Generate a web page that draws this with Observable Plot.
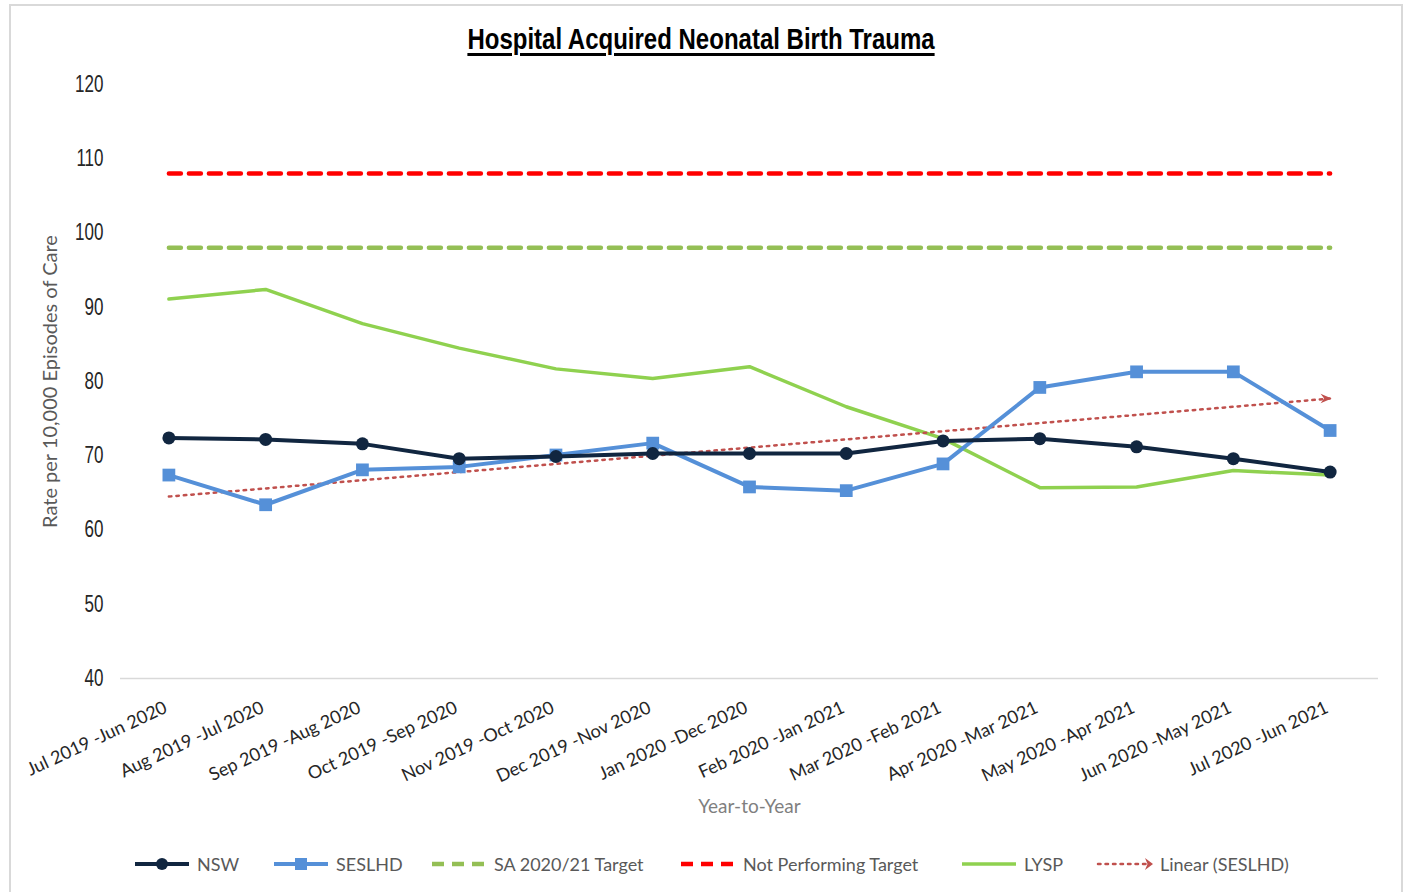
<!DOCTYPE html>
<html><head><meta charset="utf-8">
<script src="https://cdn.jsdelivr.net/npm/d3@7"></script>
<script src="https://cdn.jsdelivr.net/npm/@observablehq/plot@0.6"></script>
<style>
body{margin:0;background:#fff;width:1408px;height:892px;overflow:hidden;position:relative;font-family:Lato,"Open Sans",sans-serif;}
#frame{position:absolute;left:9px;top:4px;width:1394px;height:920px;border:2px solid #d9d9d9;box-sizing:border-box;}
#title{position:absolute;top:22px;left:0;width:1402px;text-align:center;}
#title span{display:inline-block;font-family:"Liberation Sans",Arial,sans-serif;font-weight:bold;font-size:30px;text-decoration:underline;text-underline-offset:4px;color:#000;transform:scaleX(0.8);transform-origin:center;}
#chart{position:absolute;left:0;top:70px;}
.leg{position:absolute;top:852px;height:24px;display:flex;align-items:center;font-size:18px;color:#595959;white-space:nowrap;}
.leg svg{margin-right:6px;}
</style></head>
<body>
<div id="frame"></div>
<div id="title"><span>Hospital Acquired Neonatal Birth Trauma</span></div>
<div id="chart"></div>
<div id="legend"></div>
<script>
const categories = [
  "Jul 2019 -Jun 2020","Aug 2019 -Jul 2020","Sep 2019 -Aug 2020","Oct 2019 -Sep 2020",
  "Nov 2019 -Oct 2020","Dec 2019 -Nov 2020","Jan 2020 -Dec 2020","Feb 2020 -Jan 2021",
  "Mar 2020 -Feb 2021","Apr 2020 -Mar 2021","May 2020 -Apr 2021","Jun 2020 -May 2021",
  "Jul 2020 -Jun 2021"
];
const nsw    = [72.4, 72.2, 71.6, 69.6, 69.9, 70.3, 70.3, 70.3, 72.0, 72.3, 71.2, 69.6, 67.8];
const seslhd = [67.4, 63.4, 68.1, 68.5, 70.1, 71.7, 65.8, 65.3, 68.9, 79.2, 81.3, 81.3, 73.4];
const lysp   = [91.1, 92.4, 87.8, 84.5, 81.7, 80.4, 82.0, 76.6, 72.3, 65.7, 65.8, 68.0, 67.4];
const saTarget = 98;
const notPerformingTarget = 108;
const trendStartEnd = [64.5, 77.7];   // Linear (SESLHD)
const yTicks = [40, 50, 60, 70, 80, 90, 100, 110, 120];
const seriesNames = ["NSW","SESLHD","SA 2020/21 Target","Not Performing Target","LYSP","Linear (SESLHD)"];
const colors = {nsw:"#112640", ses:"#5590d8", sa:"#94bf55", np:"#ff0000", lysp:"#8fd14f", trend:"#c0504d"};

const rows = categories.map((c, i) => ({cat: c, nsw: nsw[i], ses: seslhd[i], lysp: lysp[i], sa: saTarget, np: notPerformingTarget}));
const trendRows = [
  {cat: categories[0], v: trendStartEnd[0]},
  {cat: categories[categories.length - 1], v: trendStartEnd[1]}
];
const arrowSym = {draw(ctx, size){ const s = Math.sqrt(size) / 1.6;
  ctx.moveTo(s, 0); ctx.lineTo(-s, -s * 0.85); ctx.lineTo(-s * 0.35, 0); ctx.lineTo(-s, s * 0.85); ctx.closePath(); }};

const chart = Plot.plot({
  width: 1408, height: 770,
  marginLeft: 120, marginRight: 30, marginTop: 14, marginBottom: 162,
  x: {type: "point", domain: categories, padding: 0.5, round: false},
  y: {domain: [40, 120]},
  style: {background: "transparent", overflow: "visible"},
  marks: [
    Plot.ruleY([40], {stroke: "#d9d9d9", strokeWidth: 1.5}),
    Plot.axisY({ticks: yTicks, tickSize: 0, tickPadding: 17, label: null, fontSize: 23, fontFamily: "'Liberation Sans',Arial,sans-serif", fill: "#262626"}),
    Plot.axisX({tickSize: 0, tickRotate: -25, tickPadding: 28, dx: -3, label: null, fontSize: 18, fontFamily: "Lato,'Open Sans',sans-serif", fill: "#262626"}),
    Plot.text(["Rate per 10,000 Episodes of Care"], {frameAnchor: "left", textAnchor: "middle", rotate: -90, dx: -70, fontSize: 20, fill: "#595959", fontFamily: "Lato,'Open Sans',sans-serif"}),
    Plot.text(["Year-to-Year"], {frameAnchor: "bottom", dy: 134, fontSize: 19, fill: "#7f7f7f", fontFamily: "Lato,'Open Sans',sans-serif"}),
    Plot.lineY(rows, {x: "cat", y: "np", stroke: colors.np, strokeWidth: 4.5, strokeDasharray: "12,8"}),
    Plot.lineY(rows, {x: "cat", y: "sa", stroke: colors.sa, strokeWidth: 4.5, strokeDasharray: "12,8"}),
    Plot.lineY(rows, {x: "cat", y: "lysp", stroke: colors.lysp, strokeWidth: 3.5}),
    Plot.lineY(trendRows, {x: "cat", y: "v", stroke: colors.trend, strokeWidth: 2.5, strokeDasharray: "2.5,5", strokeLinecap: "round"}),
    Plot.dot([trendRows[1]], {x: "cat", y: "v", symbol: arrowSym, r: 5, fill: colors.trend, stroke: "none", dx: -4}),
    Plot.lineY(rows, {x: "cat", y: "ses", stroke: colors.ses, strokeWidth: 4}),
    Plot.dot(rows, {x: "cat", y: "ses", symbol: "square", r: 7.2, fill: colors.ses, stroke: "none"}),
    Plot.lineY(rows, {x: "cat", y: "nsw", stroke: colors.nsw, strokeWidth: 4}),
    Plot.dot(rows, {x: "cat", y: "nsw", r: 6.5, fill: colors.nsw, stroke: "none"})
  ]
});
document.getElementById("chart").appendChild(chart);

// narrow the y tick labels (Arial Narrow look), keeping their right edge fixed
d3.select(chart).selectAll('g[aria-label="y-axis tick label"] text').each(function() {
  const el = d3.select(this);
  const tr = el.attr("transform") || "";
  el.attr("transform", tr + " scale(0.74,1)");
});

// legend
const legendDefs = [
  {name: seriesNames[0], left: 133, color: colors.nsw, dash: null, w: 4, marker: "circle"},
  {name: seriesNames[1], left: 272, color: colors.ses, dash: null, w: 4, marker: "square"},
  {name: seriesNames[2], left: 430, color: colors.sa, dash: "12,8", w: 4.5, marker: null},
  {name: seriesNames[3], left: 679, color: colors.np, dash: "12,8", w: 4.5, marker: null},
  {name: seriesNames[4], left: 960, color: colors.lysp, dash: null, w: 3.5, marker: null},
  {name: seriesNames[5], left: 1096, color: colors.trend, dash: "2.5,5", w: 2.5, marker: "arrow"}
];
const leg = document.getElementById("legend");
for (const d of legendDefs) {
  const div = document.createElement("div");
  div.className = "leg";
  div.style.left = d.left + "px";
  const ns = "http://www.w3.org/2000/svg";
  const svg = document.createElementNS(ns, "svg");
  svg.setAttribute("width", 58); svg.setAttribute("height", 20);
  const ln = document.createElementNS(ns, "line");
  ln.setAttribute("x1", 2); ln.setAttribute("x2", d.marker === "arrow" ? 50 : 56);
  ln.setAttribute("y1", 10); ln.setAttribute("y2", 10);
  ln.setAttribute("stroke", d.color); ln.setAttribute("stroke-width", d.w);
  if (d.dash) ln.setAttribute("stroke-dasharray", d.dash);
  if (d.marker === "arrow") ln.setAttribute("stroke-linecap", "round");
  svg.appendChild(ln);
  if (d.marker === "circle") {
    const c = document.createElementNS(ns, "circle");
    c.setAttribute("cx", 29); c.setAttribute("cy", 10); c.setAttribute("r", 6); c.setAttribute("fill", d.color);
    svg.appendChild(c);
  } else if (d.marker === "square") {
    const r = document.createElementNS(ns, "rect");
    r.setAttribute("x", 23); r.setAttribute("y", 4); r.setAttribute("width", 12); r.setAttribute("height", 12); r.setAttribute("fill", d.color);
    svg.appendChild(r);
  } else if (d.marker === "arrow") {
    const p = document.createElementNS(ns, "path");
    p.setAttribute("d", "M57,10 L49,4 L51.5,10 L49,16 Z"); p.setAttribute("fill", d.color);
    svg.appendChild(p);
  }
  div.appendChild(svg);
  const t = document.createElement("span"); t.textContent = d.name;
  div.appendChild(t);
  leg.appendChild(div);
}
</script>
</body></html>
